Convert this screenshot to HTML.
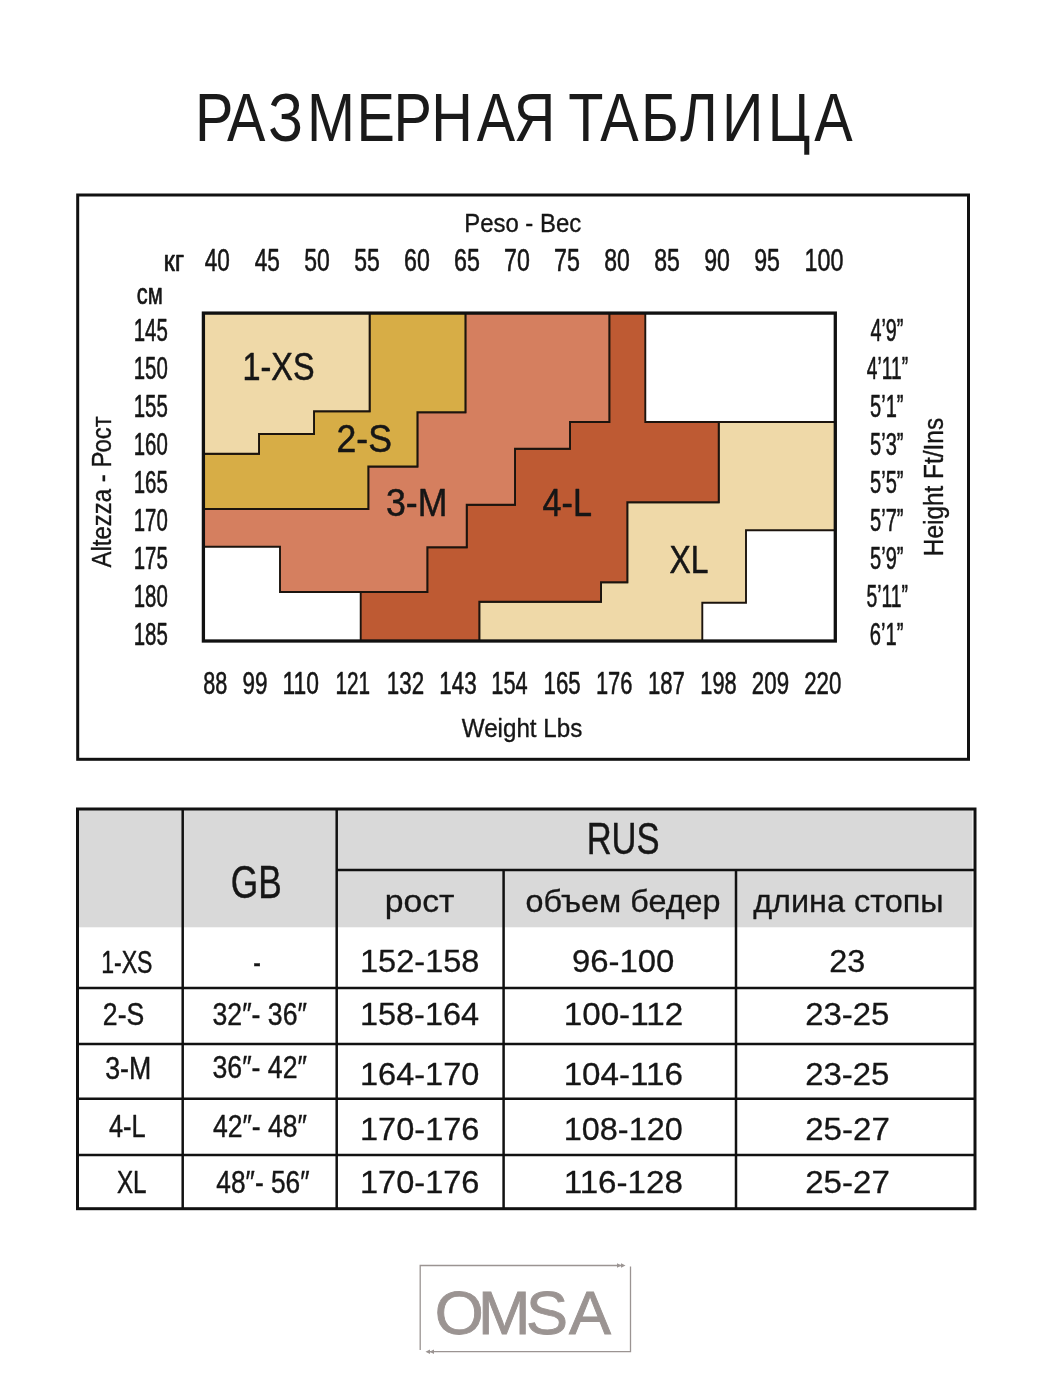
<!DOCTYPE html>
<html lang="ru"><head><meta charset="utf-8"><title>Размерная таблица</title>
<style>
html,body{margin:0;padding:0;background:#fff}
body{width:1050px;height:1400px;overflow:hidden;position:relative}
svg{display:block;position:absolute;left:0;top:0}
svg text{font-family:"Liberation Sans",sans-serif;white-space:pre}
</style></head><body>
<svg width="1050" height="1400" viewBox="0 0 1050 1400" shape-rendering="geometricPrecision">
<rect width="1050" height="1400" fill="#fff"/>
<text transform="translate(0 140.5) scale(0.8365 1)" x="233.0 271.3 320.8 367.0 426.1 470.5 515.5 570.0 614.3 661.1 679.3 717.7 766.3 812.9 863.1 917.7 973.3" y="0" font-size="68.9" fill="#1a1a1a">РАЗМЕРНАЯ ТАБЛИЦА</text>
<rect x="77.7" y="195" width="890.8" height="564.3" fill="none" stroke="#111" stroke-width="3"/>
<rect x="203.4" y="313.1" width="631.9" height="327.9" fill="#fff"/>
<polygon points="718.7,422 835.3,422 835.3,530.3 746,530.3 746,602.7 702.3,602.7 702.3,641.0 479.3,641.0 479.3,601.7 601,601.7 601,582.3 627.3,582.3 627.3,502.3 718.7,502.3" fill="#efd9a8" stroke="#1c140e" stroke-width="1.9" stroke-linejoin="miter"/>
<polygon points="609.3,313.1 645.3,313.1 645.3,422 718.7,422 718.7,502.3 627.3,502.3 627.3,582.3 601,582.3 601,601.7 479.3,601.7 479.3,641.0 360.7,641.0 360.7,592 427.3,592 427.3,547.3 466.7,547.3 466.7,504.7 515,504.7 515,448.8 570,448.8 570,422 609.3,422" fill="#be5a33" stroke="#1c140e" stroke-width="1.9" stroke-linejoin="miter"/>
<polygon points="465.4,313.1 609.3,313.1 609.3,422 570,422 570,448.8 515,448.8 515,504.7 466.7,504.7 466.7,547.3 427.3,547.3 427.3,592 280,592 280,546.7 203.4,546.7 203.4,509 368.3,509 368.3,466.5 417.4,466.5 417.4,412.3 465.4,412.3" fill="#d57f5f" stroke="#1c140e" stroke-width="1.9" stroke-linejoin="miter"/>
<polygon points="369.6,313.1 465.4,313.1 465.4,412.3 417.4,412.3 417.4,466.5 368.3,466.5 368.3,509 203.4,509 203.4,453.7 259,453.7 259,434 314,434 314,411.3 369.6,411.3" fill="#d7ad46" stroke="#1c140e" stroke-width="1.9" stroke-linejoin="miter"/>
<polygon points="203.4,313.1 369.6,313.1 369.6,411.3 314,411.3 314,434 259,434 259,453.7 203.4,453.7" fill="#efd9a8" stroke="#1c140e" stroke-width="1.9" stroke-linejoin="miter"/>
<rect x="203.4" y="313.1" width="631.9" height="327.9" fill="none" stroke="#111" stroke-width="3.3"/>
<text transform="translate(464.20 232.30) scale(0.9027 1)" font-size="26.5" fill="#161616" stroke="#161616" stroke-width="0.35" vector-effect="non-scaling-stroke" stroke-linejoin="round">Peso - Вес</text>
<text transform="translate(163.45 270.60) scale(0.8799 1)" font-size="29.5" fill="#161616" stroke="#161616" stroke-width="0.6" vector-effect="non-scaling-stroke" stroke-linejoin="round">кг</text>
<text transform="translate(204.74 270.60) scale(0.7400 1)" font-size="30.5" fill="#161616" stroke="#161616" stroke-width="0.5" vector-effect="non-scaling-stroke" stroke-linejoin="round">40</text>
<text transform="translate(254.74 270.60) scale(0.7418 1)" font-size="30.5" fill="#161616" stroke="#161616" stroke-width="0.5" vector-effect="non-scaling-stroke" stroke-linejoin="round">45</text>
<text transform="translate(304.33 270.60) scale(0.7526 1)" font-size="30.5" fill="#161616" stroke="#161616" stroke-width="0.5" vector-effect="non-scaling-stroke" stroke-linejoin="round">50</text>
<text transform="translate(354.33 270.60) scale(0.7544 1)" font-size="30.5" fill="#161616" stroke="#161616" stroke-width="0.5" vector-effect="non-scaling-stroke" stroke-linejoin="round">55</text>
<text transform="translate(404.09 270.60) scale(0.7600 1)" font-size="30.5" fill="#161616" stroke="#161616" stroke-width="0.5" vector-effect="non-scaling-stroke" stroke-linejoin="round">60</text>
<text transform="translate(454.09 270.60) scale(0.7618 1)" font-size="30.5" fill="#161616" stroke="#161616" stroke-width="0.5" vector-effect="non-scaling-stroke" stroke-linejoin="round">65</text>
<text transform="translate(504.09 270.60) scale(0.7600 1)" font-size="30.5" fill="#161616" stroke="#161616" stroke-width="0.5" vector-effect="non-scaling-stroke" stroke-linejoin="round">70</text>
<text transform="translate(554.09 270.60) scale(0.7618 1)" font-size="30.5" fill="#161616" stroke="#161616" stroke-width="0.5" vector-effect="non-scaling-stroke" stroke-linejoin="round">75</text>
<text transform="translate(604.27 270.60) scale(0.7544 1)" font-size="30.5" fill="#161616" stroke="#161616" stroke-width="0.5" vector-effect="non-scaling-stroke" stroke-linejoin="round">80</text>
<text transform="translate(654.27 270.60) scale(0.7563 1)" font-size="30.5" fill="#161616" stroke="#161616" stroke-width="0.5" vector-effect="non-scaling-stroke" stroke-linejoin="round">85</text>
<text transform="translate(704.15 270.60) scale(0.7581 1)" font-size="30.5" fill="#161616" stroke="#161616" stroke-width="0.5" vector-effect="non-scaling-stroke" stroke-linejoin="round">90</text>
<text transform="translate(754.15 270.60) scale(0.7600 1)" font-size="30.5" fill="#161616" stroke="#161616" stroke-width="0.5" vector-effect="non-scaling-stroke" stroke-linejoin="round">95</text>
<text transform="translate(804.50 270.60) scale(0.7633 1)" font-size="30.5" fill="#161616" stroke="#161616" stroke-width="0.5" vector-effect="non-scaling-stroke" stroke-linejoin="round">100</text>
<text transform="translate(136.87 304.00) scale(0.7425 1)" font-size="29.5" fill="#161616" stroke="#161616" stroke-width="0.6" vector-effect="non-scaling-stroke" stroke-linejoin="round">см</text>
<text transform="translate(133.72 340.70) scale(0.6695 1)" font-size="30.5" fill="#161616" stroke="#161616" stroke-width="0.5" vector-effect="non-scaling-stroke" stroke-linejoin="round">145</text>
<text transform="translate(133.72 378.70) scale(0.6684 1)" font-size="30.5" fill="#161616" stroke="#161616" stroke-width="0.5" vector-effect="non-scaling-stroke" stroke-linejoin="round">150</text>
<text transform="translate(133.72 416.70) scale(0.6695 1)" font-size="30.5" fill="#161616" stroke="#161616" stroke-width="0.5" vector-effect="non-scaling-stroke" stroke-linejoin="round">155</text>
<text transform="translate(133.72 454.70) scale(0.6684 1)" font-size="30.5" fill="#161616" stroke="#161616" stroke-width="0.5" vector-effect="non-scaling-stroke" stroke-linejoin="round">160</text>
<text transform="translate(133.72 492.70) scale(0.6695 1)" font-size="30.5" fill="#161616" stroke="#161616" stroke-width="0.5" vector-effect="non-scaling-stroke" stroke-linejoin="round">165</text>
<text transform="translate(133.72 530.70) scale(0.6684 1)" font-size="30.5" fill="#161616" stroke="#161616" stroke-width="0.5" vector-effect="non-scaling-stroke" stroke-linejoin="round">170</text>
<text transform="translate(133.72 568.70) scale(0.6695 1)" font-size="30.5" fill="#161616" stroke="#161616" stroke-width="0.5" vector-effect="non-scaling-stroke" stroke-linejoin="round">175</text>
<text transform="translate(133.72 606.70) scale(0.6684 1)" font-size="30.5" fill="#161616" stroke="#161616" stroke-width="0.5" vector-effect="non-scaling-stroke" stroke-linejoin="round">180</text>
<text transform="translate(133.72 644.70) scale(0.6695 1)" font-size="30.5" fill="#161616" stroke="#161616" stroke-width="0.5" vector-effect="non-scaling-stroke" stroke-linejoin="round">185</text>
<text transform="translate(203.33 694.30) scale(0.7101 1)" font-size="30.5" fill="#161616" stroke="#161616" stroke-width="0.5" vector-effect="non-scaling-stroke" stroke-linejoin="round">88</text>
<text transform="translate(242.48 694.30) scale(0.7379 1)" font-size="30.5" fill="#161616" stroke="#161616" stroke-width="0.5" vector-effect="non-scaling-stroke" stroke-linejoin="round">99</text>
<text transform="translate(282.54 694.30) scale(0.7488 1)" font-size="30.5" fill="#161616" stroke="#161616" stroke-width="0.5" vector-effect="non-scaling-stroke" stroke-linejoin="round">110</text>
<text transform="translate(335.39 694.30) scale(0.6812 1)" font-size="30.5" fill="#161616" stroke="#161616" stroke-width="0.5" vector-effect="non-scaling-stroke" stroke-linejoin="round">121</text>
<text transform="translate(386.87 694.30) scale(0.7333 1)" font-size="30.5" fill="#161616" stroke="#161616" stroke-width="0.5" vector-effect="non-scaling-stroke" stroke-linejoin="round">132</text>
<text transform="translate(439.27 694.30) scale(0.7361 1)" font-size="30.5" fill="#161616" stroke="#161616" stroke-width="0.5" vector-effect="non-scaling-stroke" stroke-linejoin="round">143</text>
<text transform="translate(491.32 694.30) scale(0.7144 1)" font-size="30.5" fill="#161616" stroke="#161616" stroke-width="0.5" vector-effect="non-scaling-stroke" stroke-linejoin="round">154</text>
<text transform="translate(543.58 694.30) scale(0.7286 1)" font-size="30.5" fill="#161616" stroke="#161616" stroke-width="0.5" vector-effect="non-scaling-stroke" stroke-linejoin="round">165</text>
<text transform="translate(595.91 694.30) scale(0.7171 1)" font-size="30.5" fill="#161616" stroke="#161616" stroke-width="0.5" vector-effect="non-scaling-stroke" stroke-linejoin="round">176</text>
<text transform="translate(647.89 694.30) scale(0.7269 1)" font-size="30.5" fill="#161616" stroke="#161616" stroke-width="0.5" vector-effect="non-scaling-stroke" stroke-linejoin="round">187</text>
<text transform="translate(700.31 694.30) scale(0.7150 1)" font-size="30.5" fill="#161616" stroke="#161616" stroke-width="0.5" vector-effect="non-scaling-stroke" stroke-linejoin="round">198</text>
<text transform="translate(751.83 694.30) scale(0.7318 1)" font-size="30.5" fill="#161616" stroke="#161616" stroke-width="0.5" vector-effect="non-scaling-stroke" stroke-linejoin="round">209</text>
<text transform="translate(804.14 694.30) scale(0.7304 1)" font-size="30.5" fill="#161616" stroke="#161616" stroke-width="0.5" vector-effect="non-scaling-stroke" stroke-linejoin="round">220</text>
<text transform="translate(461.75 736.70) scale(0.9131 1)" font-size="26.5" fill="#161616" stroke="#161616" stroke-width="0.35" vector-effect="non-scaling-stroke" stroke-linejoin="round">Weight Lbs</text>
<text transform="translate(870.40 340.70) scale(0.6496 1)" font-size="30.5" fill="#161616" stroke="#161616" stroke-width="0.5" vector-effect="non-scaling-stroke" stroke-linejoin="round">4’9”</text>
<text transform="translate(866.82 378.70) scale(0.6283 1)" font-size="30.5" fill="#161616" stroke="#161616" stroke-width="0.5" vector-effect="non-scaling-stroke" stroke-linejoin="round">4’11”</text>
<text transform="translate(870.05 416.70) scale(0.6568 1)" font-size="30.5" fill="#161616" stroke="#161616" stroke-width="0.5" vector-effect="non-scaling-stroke" stroke-linejoin="round">5’1”</text>
<text transform="translate(870.05 454.70) scale(0.6568 1)" font-size="30.5" fill="#161616" stroke="#161616" stroke-width="0.5" vector-effect="non-scaling-stroke" stroke-linejoin="round">5’3”</text>
<text transform="translate(870.05 492.70) scale(0.6568 1)" font-size="30.5" fill="#161616" stroke="#161616" stroke-width="0.5" vector-effect="non-scaling-stroke" stroke-linejoin="round">5’5”</text>
<text transform="translate(870.05 530.70) scale(0.6568 1)" font-size="30.5" fill="#161616" stroke="#161616" stroke-width="0.5" vector-effect="non-scaling-stroke" stroke-linejoin="round">5’7”</text>
<text transform="translate(870.05 568.70) scale(0.6568 1)" font-size="30.5" fill="#161616" stroke="#161616" stroke-width="0.5" vector-effect="non-scaling-stroke" stroke-linejoin="round">5’9”</text>
<text transform="translate(866.48 606.70) scale(0.6336 1)" font-size="30.5" fill="#161616" stroke="#161616" stroke-width="0.5" vector-effect="non-scaling-stroke" stroke-linejoin="round">5’11”</text>
<text transform="translate(869.84 644.70) scale(0.6609 1)" font-size="30.5" fill="#161616" stroke="#161616" stroke-width="0.5" vector-effect="non-scaling-stroke" stroke-linejoin="round">6’1”</text>
<text transform="translate(111.20 567.59) rotate(-90) scale(0.8487 1)" font-size="28.3" fill="#161616" stroke="#161616" stroke-width="0.35" vector-effect="non-scaling-stroke" stroke-linejoin="round">Altezza - Рост</text>
<text transform="translate(943.10 556.14) rotate(-90) scale(0.8839 1)" font-size="27.6" fill="#161616" stroke="#161616" stroke-width="0.35" vector-effect="non-scaling-stroke" stroke-linejoin="round">Height Ft/Ins</text>
<text transform="translate(242.52 380.40) scale(0.8263 1)" font-size="39.2" fill="#161616" stroke="#161616" stroke-width="0.5" vector-effect="non-scaling-stroke" stroke-linejoin="round">1-XS</text>
<text transform="translate(336.47 452.00) scale(0.9088 1)" font-size="39.2" fill="#161616" stroke="#161616" stroke-width="0.5" vector-effect="non-scaling-stroke" stroke-linejoin="round">2-S</text>
<text transform="translate(385.91 516.30) scale(0.9106 1)" font-size="39.2" fill="#161616" stroke="#161616" stroke-width="0.5" vector-effect="non-scaling-stroke" stroke-linejoin="round">3-M</text>
<text transform="translate(542.58 516.30) scale(0.8718 1)" font-size="39.2" fill="#161616" stroke="#161616" stroke-width="0.5" vector-effect="non-scaling-stroke" stroke-linejoin="round">4-L</text>
<text transform="translate(669.53 572.80) scale(0.8128 1)" font-size="39.2" fill="#161616" stroke="#161616" stroke-width="0.5" vector-effect="non-scaling-stroke" stroke-linejoin="round">XL</text>
<rect x="77.5" y="809" width="895.0" height="118.3" fill="#d9d9d9"/>
<line x1="77.5" y1="988" x2="975" y2="988" stroke="#111" stroke-width="2.6"/>
<line x1="77.5" y1="1044" x2="975" y2="1044" stroke="#111" stroke-width="2.6"/>
<line x1="77.5" y1="1098.7" x2="975" y2="1098.7" stroke="#111" stroke-width="2.6"/>
<line x1="77.5" y1="1155" x2="975" y2="1155" stroke="#111" stroke-width="2.6"/>
<line x1="336.7" y1="870" x2="975" y2="870" stroke="#111" stroke-width="2.5"/>
<line x1="182.7" y1="809" x2="182.7" y2="1208.7" stroke="#111" stroke-width="2.5"/>
<line x1="336.7" y1="809" x2="336.7" y2="1208.7" stroke="#111" stroke-width="2.5"/>
<line x1="503.6" y1="870" x2="503.6" y2="1208.7" stroke="#111" stroke-width="2.5"/>
<line x1="736" y1="870" x2="736" y2="1208.7" stroke="#111" stroke-width="2.5"/>
<rect x="77.5" y="809" width="897.5" height="399.7" fill="none" stroke="#111" stroke-width="3"/>
<text transform="translate(230.74 898.30) scale(0.7577 1)" font-size="46.5" fill="#161616" stroke="#161616" stroke-width="0.4" vector-effect="non-scaling-stroke" stroke-linejoin="round">GB</text>
<text transform="translate(586.65 854.30) scale(0.7926 1)" font-size="43.6" fill="#161616" stroke="#161616" stroke-width="0.4" vector-effect="non-scaling-stroke" stroke-linejoin="round">RUS</text>
<text transform="translate(101.17 973.30) scale(0.7579 1)" font-size="30.5" fill="#161616" stroke="#161616" stroke-width="0.4" vector-effect="non-scaling-stroke" stroke-linejoin="round">1-XS</text>
<text transform="translate(102.87 1025.00) scale(0.8721 1)" font-size="30.5" fill="#161616" stroke="#161616" stroke-width="0.4" vector-effect="non-scaling-stroke" stroke-linejoin="round">2-S</text>
<text transform="translate(105.20 1079.00) scale(0.8777 1)" font-size="30.5" fill="#161616" stroke="#161616" stroke-width="0.4" vector-effect="non-scaling-stroke" stroke-linejoin="round">3-M</text>
<text transform="translate(108.93 1136.70) scale(0.8326 1)" font-size="30.5" fill="#161616" stroke="#161616" stroke-width="0.4" vector-effect="non-scaling-stroke" stroke-linejoin="round">4-L</text>
<text transform="translate(116.95 1193.30) scale(0.7947 1)" font-size="30.5" fill="#161616" stroke="#161616" stroke-width="0.4" vector-effect="non-scaling-stroke" stroke-linejoin="round">XL</text>
<text transform="translate(253.17 973.30) scale(0.7494 1)" font-size="30.5" fill="#161616" stroke="#161616" stroke-width="0.4" vector-effect="non-scaling-stroke" stroke-linejoin="round">-</text>
<text transform="translate(212.50 1025.00) scale(0.8743 1)" font-size="30.5" fill="#161616" stroke="#161616" stroke-width="0.4" vector-effect="non-scaling-stroke" stroke-linejoin="round">32″- 36″</text>
<text transform="translate(212.50 1078.30) scale(0.8743 1)" font-size="30.5" fill="#161616" stroke="#161616" stroke-width="0.4" vector-effect="non-scaling-stroke" stroke-linejoin="round">36″- 42″</text>
<text transform="translate(212.90 1136.70) scale(0.8706 1)" font-size="30.5" fill="#161616" stroke="#161616" stroke-width="0.4" vector-effect="non-scaling-stroke" stroke-linejoin="round">42″- 48″</text>
<text transform="translate(216.31 1193.30) scale(0.8631 1)" font-size="30.5" fill="#161616" stroke="#161616" stroke-width="0.4" vector-effect="non-scaling-stroke" stroke-linejoin="round">48″- 56″</text>
<text transform="translate(384.66 911.70) scale(1.0469 1)" font-size="32.2" fill="#161616" stroke="#161616" stroke-width="0.3" vector-effect="non-scaling-stroke" stroke-linejoin="round">рост</text>
<text transform="translate(525.48 911.70) scale(1.0037 1)" font-size="32.2" fill="#161616" stroke="#161616" stroke-width="0.3" vector-effect="non-scaling-stroke" stroke-linejoin="round">объем бедер</text>
<text transform="translate(753.13 911.70) scale(1.0076 1)" font-size="32.2" fill="#161616" stroke="#161616" stroke-width="0.3" vector-effect="non-scaling-stroke" stroke-linejoin="round">длина стопы</text>
<text transform="translate(360.01 972.30) scale(1.0339 1)" font-size="31.5" fill="#161616" stroke="#161616" stroke-width="0.3" vector-effect="non-scaling-stroke" stroke-linejoin="round">152-158</text>
<text transform="translate(360.02 1025.00) scale(1.0296 1)" font-size="31.5" fill="#161616" stroke="#161616" stroke-width="0.3" vector-effect="non-scaling-stroke" stroke-linejoin="round">158-164</text>
<text transform="translate(360.01 1085.00) scale(1.0325 1)" font-size="31.5" fill="#161616" stroke="#161616" stroke-width="0.3" vector-effect="non-scaling-stroke" stroke-linejoin="round">164-170</text>
<text transform="translate(360.01 1140.00) scale(1.0339 1)" font-size="31.5" fill="#161616" stroke="#161616" stroke-width="0.3" vector-effect="non-scaling-stroke" stroke-linejoin="round">170-176</text>
<text transform="translate(360.01 1193.30) scale(1.0339 1)" font-size="31.5" fill="#161616" stroke="#161616" stroke-width="0.3" vector-effect="non-scaling-stroke" stroke-linejoin="round">170-176</text>
<text transform="translate(571.89 972.30) scale(1.0454 1)" font-size="31.5" fill="#161616" stroke="#161616" stroke-width="0.3" vector-effect="non-scaling-stroke" stroke-linejoin="round">96-100</text>
<text transform="translate(563.66 1025.00) scale(1.0558 1)" font-size="31.5" fill="#161616" stroke="#161616" stroke-width="0.3" vector-effect="non-scaling-stroke" stroke-linejoin="round">100-112</text>
<text transform="translate(563.66 1085.00) scale(1.0535 1)" font-size="31.5" fill="#161616" stroke="#161616" stroke-width="0.3" vector-effect="non-scaling-stroke" stroke-linejoin="round">104-116</text>
<text transform="translate(563.72 1140.00) scale(1.0298 1)" font-size="31.5" fill="#161616" stroke="#161616" stroke-width="0.3" vector-effect="non-scaling-stroke" stroke-linejoin="round">108-120</text>
<text transform="translate(563.66 1193.30) scale(1.0535 1)" font-size="31.5" fill="#161616" stroke="#161616" stroke-width="0.3" vector-effect="non-scaling-stroke" stroke-linejoin="round">116-128</text>
<text transform="translate(829.23 972.30) scale(1.0296 1)" font-size="31.5" fill="#161616" stroke="#161616" stroke-width="0.3" vector-effect="non-scaling-stroke" stroke-linejoin="round">23</text>
<text transform="translate(805.20 1025.00) scale(1.0460 1)" font-size="31.5" fill="#161616" stroke="#161616" stroke-width="0.3" vector-effect="non-scaling-stroke" stroke-linejoin="round">23-25</text>
<text transform="translate(805.20 1085.00) scale(1.0460 1)" font-size="31.5" fill="#161616" stroke="#161616" stroke-width="0.3" vector-effect="non-scaling-stroke" stroke-linejoin="round">23-25</text>
<text transform="translate(805.20 1140.00) scale(1.0502 1)" font-size="31.5" fill="#161616" stroke="#161616" stroke-width="0.3" vector-effect="non-scaling-stroke" stroke-linejoin="round">25-27</text>
<text transform="translate(805.20 1193.30) scale(1.0502 1)" font-size="31.5" fill="#161616" stroke="#161616" stroke-width="0.3" vector-effect="non-scaling-stroke" stroke-linejoin="round">25-27</text>
<g stroke="#9b9492" stroke-width="1.3" fill="none"><polyline points="420.2,1350 420.2,1265.5 621,1265.5"/><polyline points="630.5,1266.5 630.5,1351.7 430,1351.7"/></g>
<g fill="#9b9492"><polygon points="617,1263.3 621.5,1265.5 617,1267.7"/><polygon points="621,1263.3 625.5,1265.5 621,1267.7"/><polygon points="434,1349.5 429.5,1351.7 434,1353.9"/><polygon points="430,1349.5 425.5,1351.7 430,1353.9"/></g>
<text transform="translate(0 1334.3) scale(1.0157 1)" x="428.1 470.7 517.9 560.1" y="0" font-size="62" fill="#9b9492" stroke="#9b9492" stroke-width="0.9" vector-effect="non-scaling-stroke">OMSA</text>
</svg>
</body></html>
